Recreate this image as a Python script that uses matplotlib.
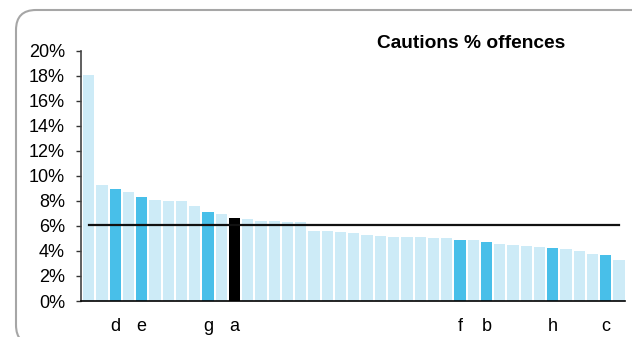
import matplotlib
matplotlib.use("Agg")
import matplotlib.pyplot as plt
from matplotlib.patches import FancyBboxPatch
from matplotlib.ticker import PercentFormatter

plt.rcParams['font.family'] = ['Liberation Sans', 'DejaVu Sans']

# Data (cautions as % of offences), sorted descending
values = [18.06, 9.27, 8.95, 8.71, 8.31, 8.07, 7.99, 7.99, 7.59, 7.11,
          6.95, 6.63, 6.55, 6.39, 6.39, 6.31, 6.31, 5.59, 5.59, 5.51,
          5.43, 5.27, 5.19, 5.11, 5.11, 5.11, 5.03, 5.03, 4.87, 4.87,
          4.71, 4.55, 4.47, 4.39, 4.31, 4.23, 4.15, 3.99, 3.75, 3.68, 3.28]
labels = ['', '', 'd', '', 'e', '', '', '', '', 'g',
          '', 'a', '', '', '', '', '', '', '', '',
          '', '', '', '', '', '', '', '', 'f', '',
          'b', '', '', '', '', 'h', '', '', '', 'c', '']
highlight = ['d', 'e', 'f', 'g', 'h', 'b', 'c']
focus = ['a']
average = 6.05
yticks = [0, 2, 4, 6, 8, 10, 12, 14, 16, 18, 20]
title = 'Cautions % offences'

LIGHT = '#CDEBF7'
DARK = '#48BFE9'
BLACK = '#000000'

colors = []
for lab in labels:
    if lab in focus:
        colors.append(BLACK)
    elif lab in highlight:
        colors.append(DARK)
    else:
        colors.append(LIGHT)

fig = plt.figure(figsize=(6.32, 3.37), dpi=100)
fig.patch.set_facecolor('white')

# rounded frame (clipped by figure edges on right/bottom)
frame = FancyBboxPatch((0.16, -0.08), 7.0, 3.35,
                       boxstyle='round,pad=0,rounding_size=0.2',
                       transform=fig.dpi_scale_trans, facecolor='none',
                       edgecolor='#A6A6A6', linewidth=1.5, zorder=-1)
fig.patches.append(frame)

ax = fig.add_axes([81 / 632, 1 - 301 / 337, (625 - 81) / 632, (301 - 50.7) / 337])
ax.set_facecolor('none')

x = list(range(len(values)))
ax.bar(x, values, width=0.85, color=colors, zorder=2)
ax.plot(x, [average] * len(values), color='#111111', linewidth=1.6, zorder=3)

ax.set_xlim(-0.58, len(values) - 0.55)
ax.set_ylim(0, 20)
ax.set_yticks(yticks)
ax.yaxis.set_major_formatter(PercentFormatter(decimals=0))
ax.set_xticks(x)
ax.set_xticklabels(labels)
ax.tick_params(axis='x', length=0, pad=12.5, labelsize=13)
ax.tick_params(axis='y', length=3.6, width=1, direction='out', labelsize=13, pad=8, color='#333333')

for s in ['top', 'right']:
    ax.spines[s].set_visible(False)
ax.spines['left'].set_color('#444444')
ax.spines['left'].set_linewidth(1.2)
ax.spines['bottom'].set_color('black')
ax.spines['bottom'].set_linewidth(1.2)

fig.text(471.5 / 632, 1 - 43 / 337, title, ha='center', va='center',
         fontsize=13.75, fontweight='bold')

fig.savefig('out.png', dpi=100)
